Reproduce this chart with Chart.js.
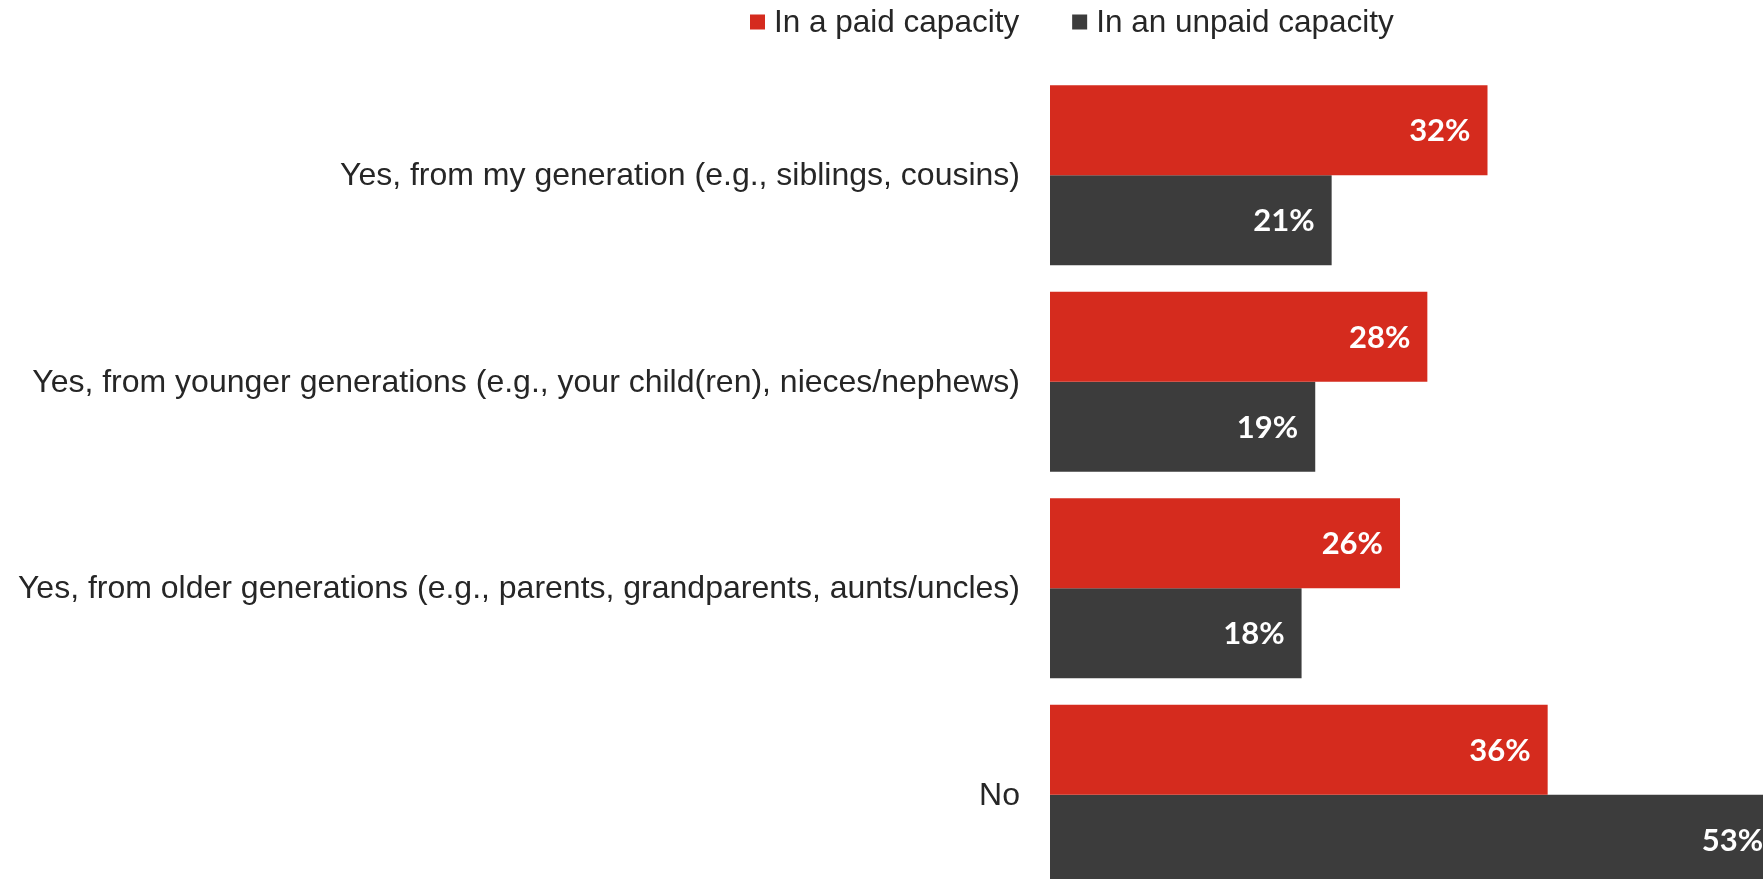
<!DOCTYPE html>
<html>
<head>
<meta charset="utf-8">
<script src="https://cdn.jsdelivr.net/npm/chart.js@4.4.1/dist/chart.umd.min.js"></script>
<style>
  html, body { margin: 0; padding: 0; background: #fff; overflow: hidden; }
  #wrap { position: relative; width: 1763px; height: 879px; overflow: hidden; }
</style>
</head>
<body>
<div id="wrap"><canvas id="chart" width="1763" height="898"></canvas></div>
<script>
const categories = [
  'Yes, from my generation (e.g., siblings, cousins)',
  'Yes, from younger generations (e.g., your child(ren), nieces/nephews)',
  'Yes, from older generations (e.g., parents, grandparents, aunts/uncles)',
  'No'
];
const seriesNames = ['In a paid capacity', 'In an unpaid capacity'];
const paidValues = [32.0, 27.6, 25.6, 36.4];
const unpaidValues = [20.6, 19.4, 18.4, 53.4];
const seriesColors = ['#D52B1E', '#3C3C3C'];

const TEXT = '#262626';
const LABEL_FONT = '32px "Liberation Sans", Arial, sans-serif';

// category labels, value labels inside the bar end, and the legend at top
const textLayer = {
  id: 'textLayer',
  afterDatasetsDraw(chart) {
    const ctx = chart.ctx;
    const yScale = chart.scales.y;
    ctx.save();
    ctx.font = LABEL_FONT;
    ctx.fillStyle = TEXT;
    ctx.textAlign = 'right';
    ctx.textBaseline = 'middle';
    chart.data.labels.forEach((lab, i) => {
      ctx.fillText(lab, chart.chartArea.left - 30, yScale.getPixelForTick(i) + 1);
    });

    ctx.font = '700 31px Lato, "Open Sans", sans-serif';
    ctx.fillStyle = '#fff';
    chart.data.datasets.forEach((ds, i) => {
      chart.getDatasetMeta(i).data.forEach((bar, j) => {
        ctx.fillText(Math.round(ds.data[j]) + '%', bar.x - 17, bar.y + 1);
      });
    });
    ctx.restore();
  },
  afterDraw(chart) {
    const ctx = chart.ctx;
    ctx.save();
    ctx.font = '31.5px "Liberation Sans", Arial, sans-serif';
    ctx.textBaseline = 'middle';
    ctx.textAlign = 'left';
    let x = 750;
    const y = 22;
    chart.data.datasets.forEach(ds => {
      ctx.fillStyle = ds.backgroundColor;
      ctx.fillRect(x, y - 7.5, 15, 15);
      x += 24;
      ctx.fillStyle = TEXT;
      ctx.fillText(ds.label, x, y + 1);
      x += ctx.measureText(ds.label).width + 53;
    });
    ctx.restore();
  }
};

new Chart(document.getElementById('chart').getContext('2d'), {
  type: 'bar',
  data: {
    labels: categories,
    datasets: [
      { label: seriesNames[0], data: paidValues, backgroundColor: seriesColors[0] },
      { label: seriesNames[1], data: unpaidValues, backgroundColor: seriesColors[1] }
    ]
  },
  options: {
    indexAxis: 'y',
    responsive: false,
    animation: false,
    events: [],
    categoryPercentage: 0.872,
    barPercentage: 1,
    layout: { padding: { top: 72, right: 0, bottom: 0, left: 0 } },
    plugins: { legend: { display: false }, tooltip: { enabled: false } },
    scales: {
      x: { display: false, min: 0, max: 52.15 },
      y: {
        grid: { display: false, drawTicks: false },
        border: { display: false },
        ticks: { display: false },
        afterFit(scale) { scale.width = 1050; }
      }
    }
  },
  plugins: [textLayer]
});
</script>
</body>
</html>
